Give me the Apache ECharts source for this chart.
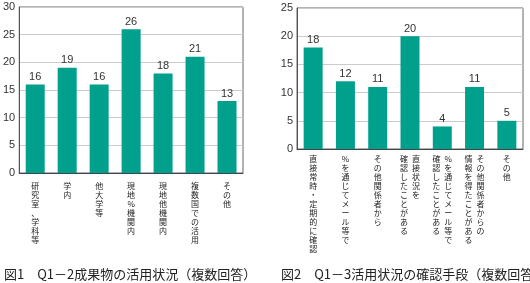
<!DOCTYPE html>
<html><head><meta charset="utf-8">
<script src="https://cdn.jsdelivr.net/npm/echarts@6/dist/echarts.min.js"></script>
<style>html,body{margin:0;padding:0;background:#fff}#c{width:530px;height:283px}</style>
</head><body><div id="c"></div>
<script>
var cats1 = ['研究室、学科等','学内','他大学等','現地%機関内','現地他機関内','複数国での活用','その他'];
var vals1 = [16,19,16,26,18,21,13];
var cats2 = ['直接常時・定期的に確認','%を通じてメール等で','その他関係者から','直接状況を\n確認したことがある','%を通じてメール等で\n確認したことがある','その他関係者からの\n情報を得たことがある','その他'];
var vals2 = [18,12,11,20,4,11,5];
var title1 = '図1　Q1－2成果物の活用状況（複数回答）';
var title2 = '図2　Q1－3活用状況の確認手段（複数回答）';

function vertical(s){
  var cols = s.split('\n').map(function(c){return Array.from(c);});
  var n = Math.max.apply(null, cols.map(function(c){return c.length;}));
  var rows = [];
  for (var i=0;i<n;i++){
    var parts = [];
    for (var j=cols.length-1;j>=0;j--){ parts.push(cols[j][i] || '\u3000'); }
    rows.push(parts.join('\u2002'));
  }
  return rows.join('\n');
}
var font = '"Noto Sans CJK JP", "Noto Sans", sans-serif';
var barColor = '#00a08c';
function xAx(idx, cats, margin){
  return {type:'category', gridIndex:idx, data:cats,
    axisLine:{lineStyle:{color:'#444',width:1}},
    axisTick:{inside:true,length:3,lineStyle:{color:'#444'}},
    axisLabel:{interval:0, hideOverlap:false, formatter:vertical, fontSize:8, lineHeight:9, color:'#222', margin:margin, verticalAlign:'top', fontFamily:font}};
}
function yAx(idx, max){
  return {type:'value', gridIndex:idx, min:0, max:max, interval:5,
    axisLine:{show:true,lineStyle:{color:'#555'}}, axisTick:{show:false},
    splitLine:{lineStyle:{color:'#cccccc'}},
    axisLabel:{fontSize:11, color:'#333', margin:4, fontFamily:'"Liberation Sans", Arial, sans-serif'}};
}
function bar(idx, vals){
  return {type:'bar', xAxisIndex:idx, yAxisIndex:idx, data:vals, barWidth:19,
    itemStyle:{color:barColor},
    label:{show:true, position:'top', distance:2, fontSize:11, color:'#333', fontFamily:'"Liberation Sans", Arial, sans-serif'}};
}
var chart = echarts.init(document.getElementById('c'), null, {renderer:'canvas'});
chart.setOption({
  animation:false,
  textStyle:{fontFamily:font},
  title:[
    {text:title1, left:-1, top:263, textStyle:{fontSize:13, fontWeight:'normal', color:'#222', fontFamily:font}},
    {text:title2, left:276, top:263, textStyle:{fontSize:13, fontWeight:'normal', color:'#222', fontFamily:font}}
  ],
  grid:[
    {left:17, top:7, width:226, height:166, show:true, borderColor:'#666', borderWidth:1, containLabel:false},
    {left:297, top:8, width:226, height:141, show:true, borderColor:'#666', borderWidth:1, containLabel:false}
  ],
  xAxis:[xAx(0,cats1,8), xAx(1,cats2,5)],
  yAxis:[yAx(0,30), yAx(1,25)],
  series:[bar(0,vals1), bar(1,vals2)]
});
</script></body></html>
